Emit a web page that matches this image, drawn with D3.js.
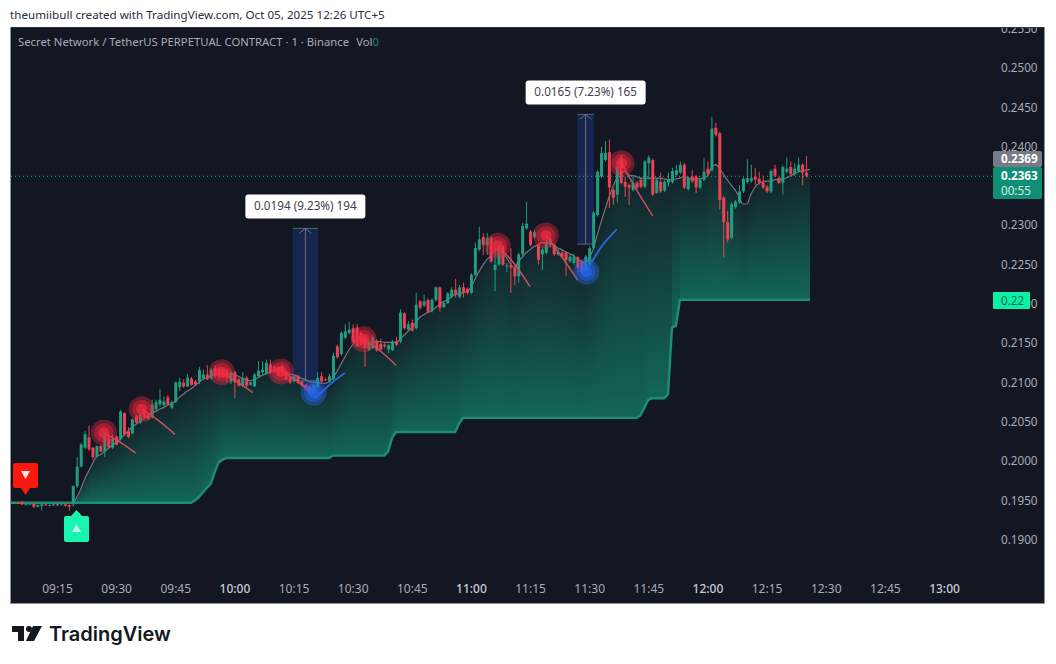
<!DOCTYPE html>
<html>
<head>
<meta charset="utf-8">
<title>Secret Network / TetherUS 1m</title>
<script src="https://cdn.jsdelivr.net/npm/d3@7/dist/d3.min.js"></script>
<style>
  html, body { margin: 0; padding: 0; background: #fff; }
  svg { display: block; }
  text { font-family: "Noto Sans", sans-serif; }
</style>
</head>
<body>
<script>
// All prices are in ticks of 0.0001, times are minutes after 09:15
var firstMinute = -11;

var opens = [
  1947,1947,1948,1945,1945,1946,1942,1943,1945,1944,1944,1945,1945,1945,1944,
  1945,1968,1993,2017,2030,2017,2006,2019,2012,2030,
  2017,2031,2028,2061,2038,2035,2057,2049,2063,2059,
  2056,2066,2072,2071,2081,2068,2075,2094,2100,2095,
  2105,2101,2101,2105,2110,2105,2118,2116,2116,2116,
  2101,2113,2104,2096,2106,2097,2095,2108,2113,2111,
  2123,2120,2119,2120,2113,2106,2102,2108,2101,2097,
  2095,2088,2094,2108,2104,2101,2104,2146,2136,2157,
  2163,2169,2170,2163,2158,2142,2144,2153,2149,2148,
  2142,2141,2152,2152,2188,2167,2176,2169,2203,2198,
  2205,2191,2205,2221,2196,2201,2209,2218,2209,2221,
  2219,2214,2237,2269,2285,2275,2284,2243,2250,2273,
  2249,2249,2246,2235,2263,2296,2292,2285,2275,2263,
  2265,2275,2275,2263,2265,2265,2254,2252,2259,2254,
  2243,2250,2271,2313,2362,2383,2393,2345,2339,2386,
  2355,2351,2345,2354,2358,2349,2379,2383,2341,2355,
  2344,2354,2355,2364,2367,2377,2346,2362,2362,2348,
  2358,2372,2370,2424,2417,2335,2304,2284,2323,2329,
  2343,2355,2356,2362,2359,2354,2349,2343,2372,2360,
  2354,2368,2374,2365,2369,2377,2367
];
var highs = [
  1948,1948,1949,1946,1946,1946,1945,1945,1946,1945,1946,1946,1946,1946,1945,
  1969,2005,2023,2038,2045,2018,2020,2021,2036,2032,
  2034,2033,2065,2062,2043,2054,2059,2061,2066,2060,
  2078,2078,2092,2082,2084,2077,2101,2106,2104,2111,
  2107,2103,2120,2116,2122,2118,2122,2120,2118,2118,
  2116,2115,2106,2113,2108,2101,2112,2127,2127,2129,
  2129,2122,2121,2122,2115,2107,2110,2110,2102,2098,
  2096,2099,2113,2113,2106,2111,2138,2148,2165,2174,
  2177,2174,2174,2165,2160,2155,2160,2155,2156,2150,
  2149,2154,2158,2193,2189,2178,2180,2214,2205,2212,
  2207,2207,2222,2222,2203,2215,2221,2232,2224,2227,
  2221,2239,2278,2298,2290,2290,2286,2282,2275,2275,
  2252,2271,2250,2265,2303,2330,2294,2294,2277,2272,
  2281,2285,2277,2269,2267,2267,2263,2264,2261,2256,
  2262,2273,2318,2370,2400,2407,2409,2347,2377,2389,
  2362,2353,2362,2356,2360,2383,2389,2385,2360,2367,
  2357,2367,2373,2377,2381,2379,2362,2370,2364,2360,
  2386,2381,2438,2430,2419,2337,2318,2329,2332,2351,
  2361,2384,2377,2373,2368,2363,2351,2371,2377,2362,
  2376,2386,2381,2379,2386,2379,2388
];
var lows = [
  1946,1946,1944,1944,1944,1940,1941,1937,1943,1943,1943,1943,1943,1942,1937,
  1942,1966,1992,2015,2013,2002,2004,2011,2005,2016,
  2015,2020,2026,2032,2029,2034,2048,2047,2054,2052,
  2054,2064,2069,2069,2070,2066,2074,2089,2093,2094,
  2096,2096,2098,2103,2103,2104,2106,2106,2106,2100,
  2098,2080,2095,2094,2094,2096,2094,2106,2111,2110,
  2111,2112,2108,2111,2102,2098,2100,2098,2095,2090,
  2086,2086,2092,2100,2102,2100,2102,2130,2134,2155,
  2161,2150,2145,2146,2120,2140,2142,2139,2140,2144,
  2137,2140,2146,2150,2167,2165,2165,2167,2193,2196,
  2188,2189,2203,2190,2195,2200,2207,2208,2207,2208,
  2212,2212,2235,2267,2262,2262,2252,2216,2248,2248,
  2240,2214,2224,2227,2261,2294,2273,2283,2250,2243,
  2263,2272,2261,2261,2258,2235,2252,2250,2240,2239,
  2241,2248,2269,2311,2360,2381,2322,2326,2329,2352,
  2336,2326,2343,2346,2347,2347,2358,2337,2340,2341,
  2342,2349,2353,2362,2365,2346,2344,2354,2341,2346,
  2356,2363,2368,2413,2320,2259,2278,2282,2321,2327,
  2341,2353,2354,2351,2352,2346,2341,2341,2361,2352,
  2339,2366,2363,2363,2367,2351,2361
];
var closes = [
  1947,1946,1945,1945,1946,1942,1944,1945,1944,1944,1945,1944,1946,1943,1942,
  1968,1993,2021,2034,2015,2005,2019,2012,2034,2017,
  2028,2021,2063,2034,2031,2053,2049,2059,2056,2054,
  2072,2075,2078,2076,2072,2075,2100,2101,2095,2106,
  2097,2097,2116,2110,2104,2116,2108,2108,2108,2106,
  2113,2100,2096,2106,2096,2100,2110,2115,2116,2125,
  2113,2114,2110,2113,2104,2100,2108,2100,2096,2091,
  2087,2097,2106,2101,2103,2108,2134,2132,2163,2165,
  2167,2152,2146,2148,2144,2152,2158,2141,2142,2146,
  2147,2152,2148,2189,2169,2174,2166,2199,2195,2203,
  2190,2205,2221,2195,2201,2213,2218,2212,2221,2214,
  2214,2237,2271,2282,2275,2284,2254,2250,2271,2250,
  2249,2246,2235,2263,2299,2302,2275,2291,2256,2269,
  2279,2282,2263,2266,2260,2256,2260,2259,2246,2241,
  2260,2271,2316,2368,2392,2392,2348,2335,2374,2354,
  2349,2348,2354,2348,2349,2381,2386,2339,2358,2343,
  2355,2358,2369,2370,2377,2348,2360,2356,2348,2358,
  2368,2365,2423,2415,2332,2304,2282,2327,2330,2343,
  2359,2360,2360,2358,2354,2348,2343,2369,2363,2354,
  2374,2372,2365,2372,2377,2367,2363
];

// Grey moving average, starts at minute 4 and runs one bar past the last candle
var maFirstMinute = 4;
var maValues = [
  1945,1954,1964,1977,1987,1997,2006,2008,2012,2016,
  2020,2024,2028,2033,2038,2043,2047,2050,2054,2058,
  2061,2063,2066,2068,2071,2073,2076,2081,2085,2089,
  2092,2096,2100,2104,2106,2108,2110,2111,2111,2111,
  2111,2110,2108,2105,2104,2102,2104,2106,2109,2111,
  2113,2115,2116,2116,2114,2111,2110,2108,2105,2104,
  2101,2100,2100,2099,2099,2101,2106,2114,2123,2132,
  2141,2148,2155,2157,2152,2151,2152,2152,2152,2151,
  2151,2151,2151,2155,2160,2165,2170,2176,2183,2186,
  2189,2191,2195,2199,2203,2205,2209,2212,2213,2214,
  2216,2221,2231,2241,2249,2256,2261,2268,2270,2265,
  2259,2251,2246,2254,2259,2265,2269,2273,2275,2278,
  2278,2278,2275,2271,2269,2266,2264,2261,2257,2254,
  2252,2259,2269,2287,2304,2320,2335,2349,2360,2368,
  2368,2364,2363,2362,2360,2360,2360,2360,2360,2360,
  2359,2358,2358,2359,2360,2362,2360,2359,2359,2359,
  2360,2363,2373,2377,2373,2365,2358,2351,2345,2336,
  2327,2327,2339,2348,2353,2355,2356,2356,2358,2358,
  2359,2360,2363,2365,2368,2369,2370,2371
];

// Trailing stop stairs, one value per bar, from the left frame to just past the last candle
var stairFirstMinute = -12;
var stairValues = [
  1947,
  1947,1947,1947,1947,1947,1947,1947,1947,1947,1947,1947,1947,1947,1947,1947,
  1947,1947,1947,1947,1947,1947,1947,1947,1947,1947,1947,1947,1947,1947,1947,
  1947,1947,1947,1947,1947,1947,1947,1947,1947,1947,1947,1947,1947,1947,1947,1947,
  1950,1954,1960,1966,1971,1986,1998,2002,2004,
  2004,2004,2004,2004,2004,2004,2004,2004,2004,2004,2004,2004,2004,
  2004,2004,2004,2004,2004,2004,2004,2004,2004,2004,2004,2004,2004,
  2007,2007,2007,2007,2007,2007,2007,2007,2007,2007,2007,2007,2007,2007,
  2012,2030,2037,
  2037,2037,2037,2037,2037,2037,2037,2037,2037,2037,2037,2037,2037,2037,2037,
  2048,
  2055,2055,2055,2055,2055,2055,2055,2055,2055,2055,2055,2055,2055,2055,2055,
  2055,2055,2055,2055,2055,2055,2055,2055,2055,2055,2055,2055,2055,2055,2055,
  2055,2055,2055,2055,2055,2055,2055,2055,2055,2055,2055,2055,2055,2055,2055,
  2058,2068,2078,2080,2080,2080,2080,2085,2170,2172,
  2205,2205,2205,2205,2205,2205,2205,2205,2205,2205,2205,
  2205,2205,2205,2205,2205,2205,2205,2205,2205,2205,2205,
  2205,2205,2205,2205,2205,2205,2205,2205,2205,2205,2205,
  2205
];

// Signal dots with their short tails: [minute, price] per point
var redDots = [[11.9,2036],[21.5,2066],[41.8,2113],[56.8,2114],[77.8,2155],[111.8,2274],[124,2287],[143.2,2379]];
var redTails = [
  [[11.9,2036],[16,2024],[20,2010]],
  [[21.5,2066],[25.6,2052],[29.9,2034]],
  [[41.8,2113],[45.9,2100],[49.7,2087]],
  [[56.8,2114],[60.6,2103],[64.1,2088]],
  [[77.8,2155],[82,2140],[86,2122]],
  [[111.8,2274],[115.7,2253],[120,2222]],
  [[124,2287],[128.3,2258],[132.1,2230]],
  [[143.2,2379],[147,2345],[151.1,2312]]
];
var blueDots = [[65.1,2087],[134.3,2241]];
var blueTails = [
  [[65.5,2080],[69.6,2099],[73,2112]],
  [[135.5,2252],[138.3,2274],[142,2295]]
];

// Measure tools
var measureMinutes = [[59.8,66.2],[132,136.2]];
var measureTops = [2296,2441];
var measureBottoms = [2102,2276];
var measureLabels = ["0.0194 (9.23%) 194","0.0165 (7.23%) 165"];

// 0.2350 sits fully behind the price tags, so it is not listed
var priceTicks = [1900,1950,2000,2050,2100,2150,2200,2250,2300,2400,2450,2500,2550];
var timeLabels = ["09:15","09:30","09:45","10:00","10:15","10:30","10:45","11:00","11:15","11:30","11:45","12:00","12:15","12:30","12:45","13:00"];
var timeTicks = timeLabels.map(function(d, i) { return i * 15; });
var boldTimes = ["10:00","11:00","12:00","13:00"];

var lastPrice = 2363, prevPrice = 2369, stopLabel = "0.22";

var width = 1056, height = 664;
var plotLeft = 11, plotRight = 1044, plotTop = 28, plotBottom = 603;
var green = "#1f9e80", red = "#ef4054", bg = "#131722";

var x = d3.scaleLinear().domain([0, 225]).range([57, 944]);
var y = d3.scaleLinear().domain([1900, 2500]).range([539.7, 68]);

var svg = d3.select("body").append("svg")
  .attr("width", width)
  .attr("height", height);

var defs = svg.append("defs");
var grad = defs.append("linearGradient")
  .attr("id", "fillGrad")
  .attr("x1", 0).attr("y1", 0).attr("x2", 0).attr("y2", 1);
grad.append("stop").attr("offset", "0%").attr("stop-color", "#12a07d").attr("stop-opacity", 0.1);
grad.append("stop").attr("offset", "100%").attr("stop-color", "#12a07d").attr("stop-opacity", 0.58);
var soft = defs.append("filter").attr("id", "soft");
soft.append("feGaussianBlur").attr("stdDeviation", 0.6);
defs.append("clipPath").attr("id", "plotClip").append("rect")
  .attr("x", plotLeft).attr("y", plotTop)
  .attr("width", plotRight - plotLeft).attr("height", plotBottom - plotTop);

svg.append("rect")
  .attr("x", plotLeft - 0.5).attr("y", plotTop - 0.5)
  .attr("width", plotRight - plotLeft + 1).attr("height", plotBottom - plotTop + 1)
  .attr("fill", bg).attr("stroke", "#8f929c");

// Price axis goes first, the price tags cover parts of it
var yAxis = d3.axisRight(y)
  .tickValues(priceTicks)
  .tickSize(0)
  .tickPadding(0)
  .tickFormat(function(d) { return (d / 10000).toFixed(4); });
var yAxisG = svg.append("g").attr("transform", "translate(1001,0)").call(yAxis);
yAxisG.select(".domain").remove();
yAxisG.selectAll("text").attr("fill", "#a9acb5").style("font-size", "11.7px");

var xAxis = d3.axisBottom(x)
  .tickValues(timeTicks)
  .tickSize(0)
  .tickPadding(0)
  .tickFormat(function(d, i) { return timeLabels[i]; });
var xAxisG = svg.append("g").attr("transform", "translate(0,584)").call(xAxis);
xAxisG.select(".domain").remove();
xAxisG.selectAll("text")
  .attr("fill", function(d, i) { return boldTimes.indexOf(timeLabels[i]) >= 0 ? "#c8cbd3" : "#a9acb5"; })
  .style("font-size", "12px")
  .style("font-weight", function(d, i) { return boldTimes.indexOf(timeLabels[i]) >= 0 ? 500 : 400; });

// One gradient piece per candle, so it restarts for every column
var stairAt = function(m) { return stairValues[m - stairFirstMinute]; };
var fillPieces = d3.range(maValues.length - 1).map(function(i) {
  var m = maFirstMinute + i;
  return { m: m, a0: maValues[i], a1: maValues[i + 1], b0: stairAt(m), b1: stairAt(m + 1) };
});
svg.append("g").selectAll("path")
  .data(fillPieces)
  .enter().append("path")
  .attr("fill", "url(#fillGrad)")
  .attr("shape-rendering", "crispEdges")
  .attr("d", function(d) {
    return "M" + x(d.m) + "," + y(d.a0) + "L" + x(d.m + 1) + "," + y(d.a1) +
      "L" + x(d.m + 1) + "," + y(d.b1) + "L" + x(d.m) + "," + y(d.b0) + "Z";
  });

// Stop line
var stairLine = d3.line()
  .x(function(d, i) { return x(stairFirstMinute + i); })
  .y(function(d) { return y(d); });
svg.append("path")
  .datum(stairValues)
  .attr("d", stairLine)
  .attr("clip-path", "url(#plotClip)")
  .attr("fill", "none")
  .attr("stroke", "#1c8f72")
  .attr("stroke-width", 2.4);

// Last price line
svg.append("line")
  .attr("x1", plotLeft).attr("x2", 993)
  .attr("y1", y(lastPrice) + 0.6).attr("y2", y(lastPrice) + 0.6)
  .attr("stroke", "#1fb08c")
  .attr("stroke-dasharray", "1,3");

// Measure boxes
var measures = measureMinutes.map(function(d, i) {
  return { m0: d[0], m1: d[1], top: measureTops[i], bottom: measureBottoms[i], label: measureLabels[i] };
});
var mg = svg.append("g").selectAll("g").data(measures).enter().append("g");
mg.append("rect")
  .attr("x", function(d) { return x(d.m0); })
  .attr("width", function(d) { return x(d.m1) - x(d.m0); })
  .attr("y", function(d) { return y(d.top); })
  .attr("height", function(d) { return y(d.bottom) - y(d.top); })
  .attr("fill", "#2962ff")
  .attr("fill-opacity", 0.2);
mg.append("line")
  .attr("x1", function(d) { return x(d.m0); })
  .attr("x2", function(d) { return x(d.m1); })
  .attr("y1", function(d) { return y(d.top); })
  .attr("y2", function(d) { return y(d.top); })
  .attr("stroke", "#5d6270");
mg.append("line")
  .attr("x1", function(d) { return x(d.m0); })
  .attr("x2", function(d) { return x(d.m1); })
  .attr("y1", function(d) { return y(d.bottom); })
  .attr("y2", function(d) { return y(d.bottom); })
  .attr("stroke", "#5d6270");
mg.append("line")
  .attr("x1", function(d) { return x((d.m0 + d.m1) / 2); })
  .attr("x2", function(d) { return x((d.m0 + d.m1) / 2); })
  .attr("y1", function(d) { return y(d.top); })
  .attr("y2", function(d) { return y(d.bottom); })
  .attr("stroke", "#6c7180");
mg.append("path")
  .attr("fill", "none")
  .attr("stroke", "#6c7180")
  .attr("d", function(d) {
    var cx = x((d.m0 + d.m1) / 2), ty = y(d.top);
    return "M" + (cx - 6) + "," + (ty + 5) + "L" + cx + "," + ty + "L" + (cx + 6) + "," + (ty + 5);
  });

// Moving average
var maLine = d3.line()
  .x(function(d, i) { return x(maFirstMinute + i); })
  .y(function(d) { return y(d); })
  .curve(d3.curveMonotoneX);
svg.append("path")
  .datum(maValues)
  .attr("d", maLine)
  .attr("fill", "none")
  .attr("stroke", "#71777e")
  .attr("stroke-width", 1.2);

// Candles
var candles = opens.map(function(d, i) {
  return { m: firstMinute + i, o: d, h: highs[i], l: lows[i], c: closes[i] };
});
var cg = svg.append("g").selectAll("g").data(candles).enter().append("g");
cg.append("line")
  .attr("x1", function(d) { return x(d.m) + 0.5; })
  .attr("x2", function(d) { return x(d.m) + 0.5; })
  .attr("y1", function(d) { return y(d.h); })
  .attr("y2", function(d) { return y(d.l); })
  .attr("stroke", function(d) { return d.c >= d.o ? green : red; });
cg.append("rect")
  .attr("x", function(d) { return x(d.m) - 1; })
  .attr("width", 3)
  .attr("y", function(d) { return y(Math.max(d.o, d.c)); })
  .attr("height", function(d) { return Math.max(1, Math.abs(y(d.o) - y(d.c))); })
  .attr("fill", function(d) { return d.c >= d.o ? green : red; });

// Tails and dots sit over the candles
var tailLine = d3.line()
  .x(function(d) { return x(d[0]); })
  .y(function(d) { return y(d[1]); })
  .curve(d3.curveCatmullRom);
svg.append("g").selectAll("path").data(redTails).enter().append("path")
  .attr("d", tailLine)
  .attr("fill", "none")
  .attr("stroke", "#c9505e")
  .attr("stroke-width", 1.5);
svg.append("g").selectAll("path").data(blueTails).enter().append("path")
  .attr("d", tailLine)
  .attr("fill", "none")
  .attr("stroke", "#2a62d8")
  .attr("stroke-width", 2);

function drawDots(dots, color) {
  var dg = svg.append("g").attr("filter", "url(#soft)")
    .selectAll("g").data(dots).enter().append("g");
  [[13, 0.38], [9.5, 0.4], [5.5, 0.65]].forEach(function(ring) {
    dg.append("circle")
      .attr("cx", function(d) { return x(d[0]); })
      .attr("cy", function(d) { return y(d[1]); })
      .attr("r", ring[0])
      .attr("fill", color)
      .attr("fill-opacity", ring[1]);
  });
}
drawDots(redDots, "#f2293f");
drawDots(blueDots, "#2567f5");

// Measure labels
var lw = 120, lh = 24;
mg.append("rect")
  .attr("x", function(d) { return x((d.m0 + d.m1) / 2) - lw / 2; })
  .attr("y", function(d) { return y(d.top) - 34; })
  .attr("width", lw).attr("height", lh)
  .attr("rx", 3)
  .attr("fill", "#fff");
mg.append("text")
  .attr("x", function(d) { return x((d.m0 + d.m1) / 2); })
  .attr("y", function(d) { return y(d.top) - 18; })
  .attr("text-anchor", "middle")
  .attr("fill", "#3b3f4a")
  .style("font-size", "11.7px")
  .text(function(d) { return d.label; });

// Sell and buy flags
var flags = svg.append("g");
flags.append("path")
  .attr("d", "M15,463H36a2,2 0 0 1 2,2V486a2,2 0 0 1 -2,2H30L25.5,495L21,488H15a2,2 0 0 1 -2,-2V465a2,2 0 0 1 2,-2Z")
  .attr("fill", "#f9190f");
flags.append("path").attr("d", "M21,471H30L25.5,479Z").attr("fill", "#fbe3df");
flags.append("path")
  .attr("d", "M66,516H71L76.5,510L82,516H87a2,2 0 0 1 2,2V540a2,2 0 0 1 -2,2H66a2,2 0 0 1 -2,-2V518a2,2 0 0 1 2,-2Z")
  .attr("fill", "#17f5b1");
flags.append("path").attr("d", "M72,532H81L76.5,524Z").attr("fill", "#c5f5e6");

// Price tags
var tags = svg.append("g");
tags.append("rect").attr("x", 993).attr("y", 151).attr("width", 49).attr("height", 16).attr("rx", 2).attr("fill", "#787b86");
tags.append("rect").attr("x", 993).attr("y", 167).attr("width", 49).attr("height", 32).attr("rx", 2).attr("fill", "#0f8f76");
tags.append("rect").attr("x", 993).attr("y", 292).attr("width", 37).attr("height", 17).attr("rx", 1).attr("fill", "#0af0a5");
tags.append("text").attr("x", 1001).attr("y", 163).attr("fill", "#fff").style("font-size", "11.7px").style("font-weight", 700).text((prevPrice / 10000).toFixed(4));
tags.append("text").attr("x", 1001).attr("y", 180).attr("fill", "#fff").style("font-size", "11.7px").style("font-weight", 700).text((lastPrice / 10000).toFixed(4));
tags.append("text").attr("x", 1001).attr("y", 195).attr("fill", "#d5efe8").style("font-size", "11.7px").text("00:55");
tags.append("text").attr("x", 1001).attr("y", 305).attr("fill", "#0c6b58").style("font-size", "11.7px").text(stopLabel);

// The axis label above the frame is cut off
svg.append("rect").attr("x", 0).attr("y", 0).attr("width", width).attr("height", plotTop - 1).attr("fill", "#fff");
svg.append("line").attr("x1", plotLeft).attr("x2", plotRight).attr("y1", plotTop - 0.5).attr("y2", plotTop - 0.5).attr("stroke", "#30343e");

svg.append("text")
  .attr("x", 10).attr("y", 19)
  .attr("fill", "#2a2e39")
  .style("font-size", "11.65px")
  .text("theumiibull created with TradingView.com, Oct 05, 2025 12:26 UTC+5");

var title = svg.append("text")
  .attr("x", 18).attr("y", 46)
  .attr("fill", "#a9acb5")
  .style("font-size", "11.3px");
title.append("tspan").text("Secret Network / TetherUS PERPETUAL CONTRACT · 1 · Binance");
title.append("tspan").attr("dx", 7).text("Vol");
title.append("tspan").attr("fill", "#168a70").text("0");

// TradingView logo
var logo = svg.append("g").attr("fill", "#131722");
logo.append("path").attr("d", "M12,626H24V641H18V632H12Z");
logo.append("circle").attr("cx", 29).attr("cy", 629).attr("r", 3);
logo.append("path").attr("d", "M33,626H42L34,641H26Z");
logo.append("text")
  .attr("x", 49).attr("y", 641)
  .attr("fill", "#131722")
  .style("font-family", "Inter, sans-serif")
  .style("font-size", "20px")
  .style("font-weight", 600)
  .text("TradingView");
</script>
</body>
</html>
